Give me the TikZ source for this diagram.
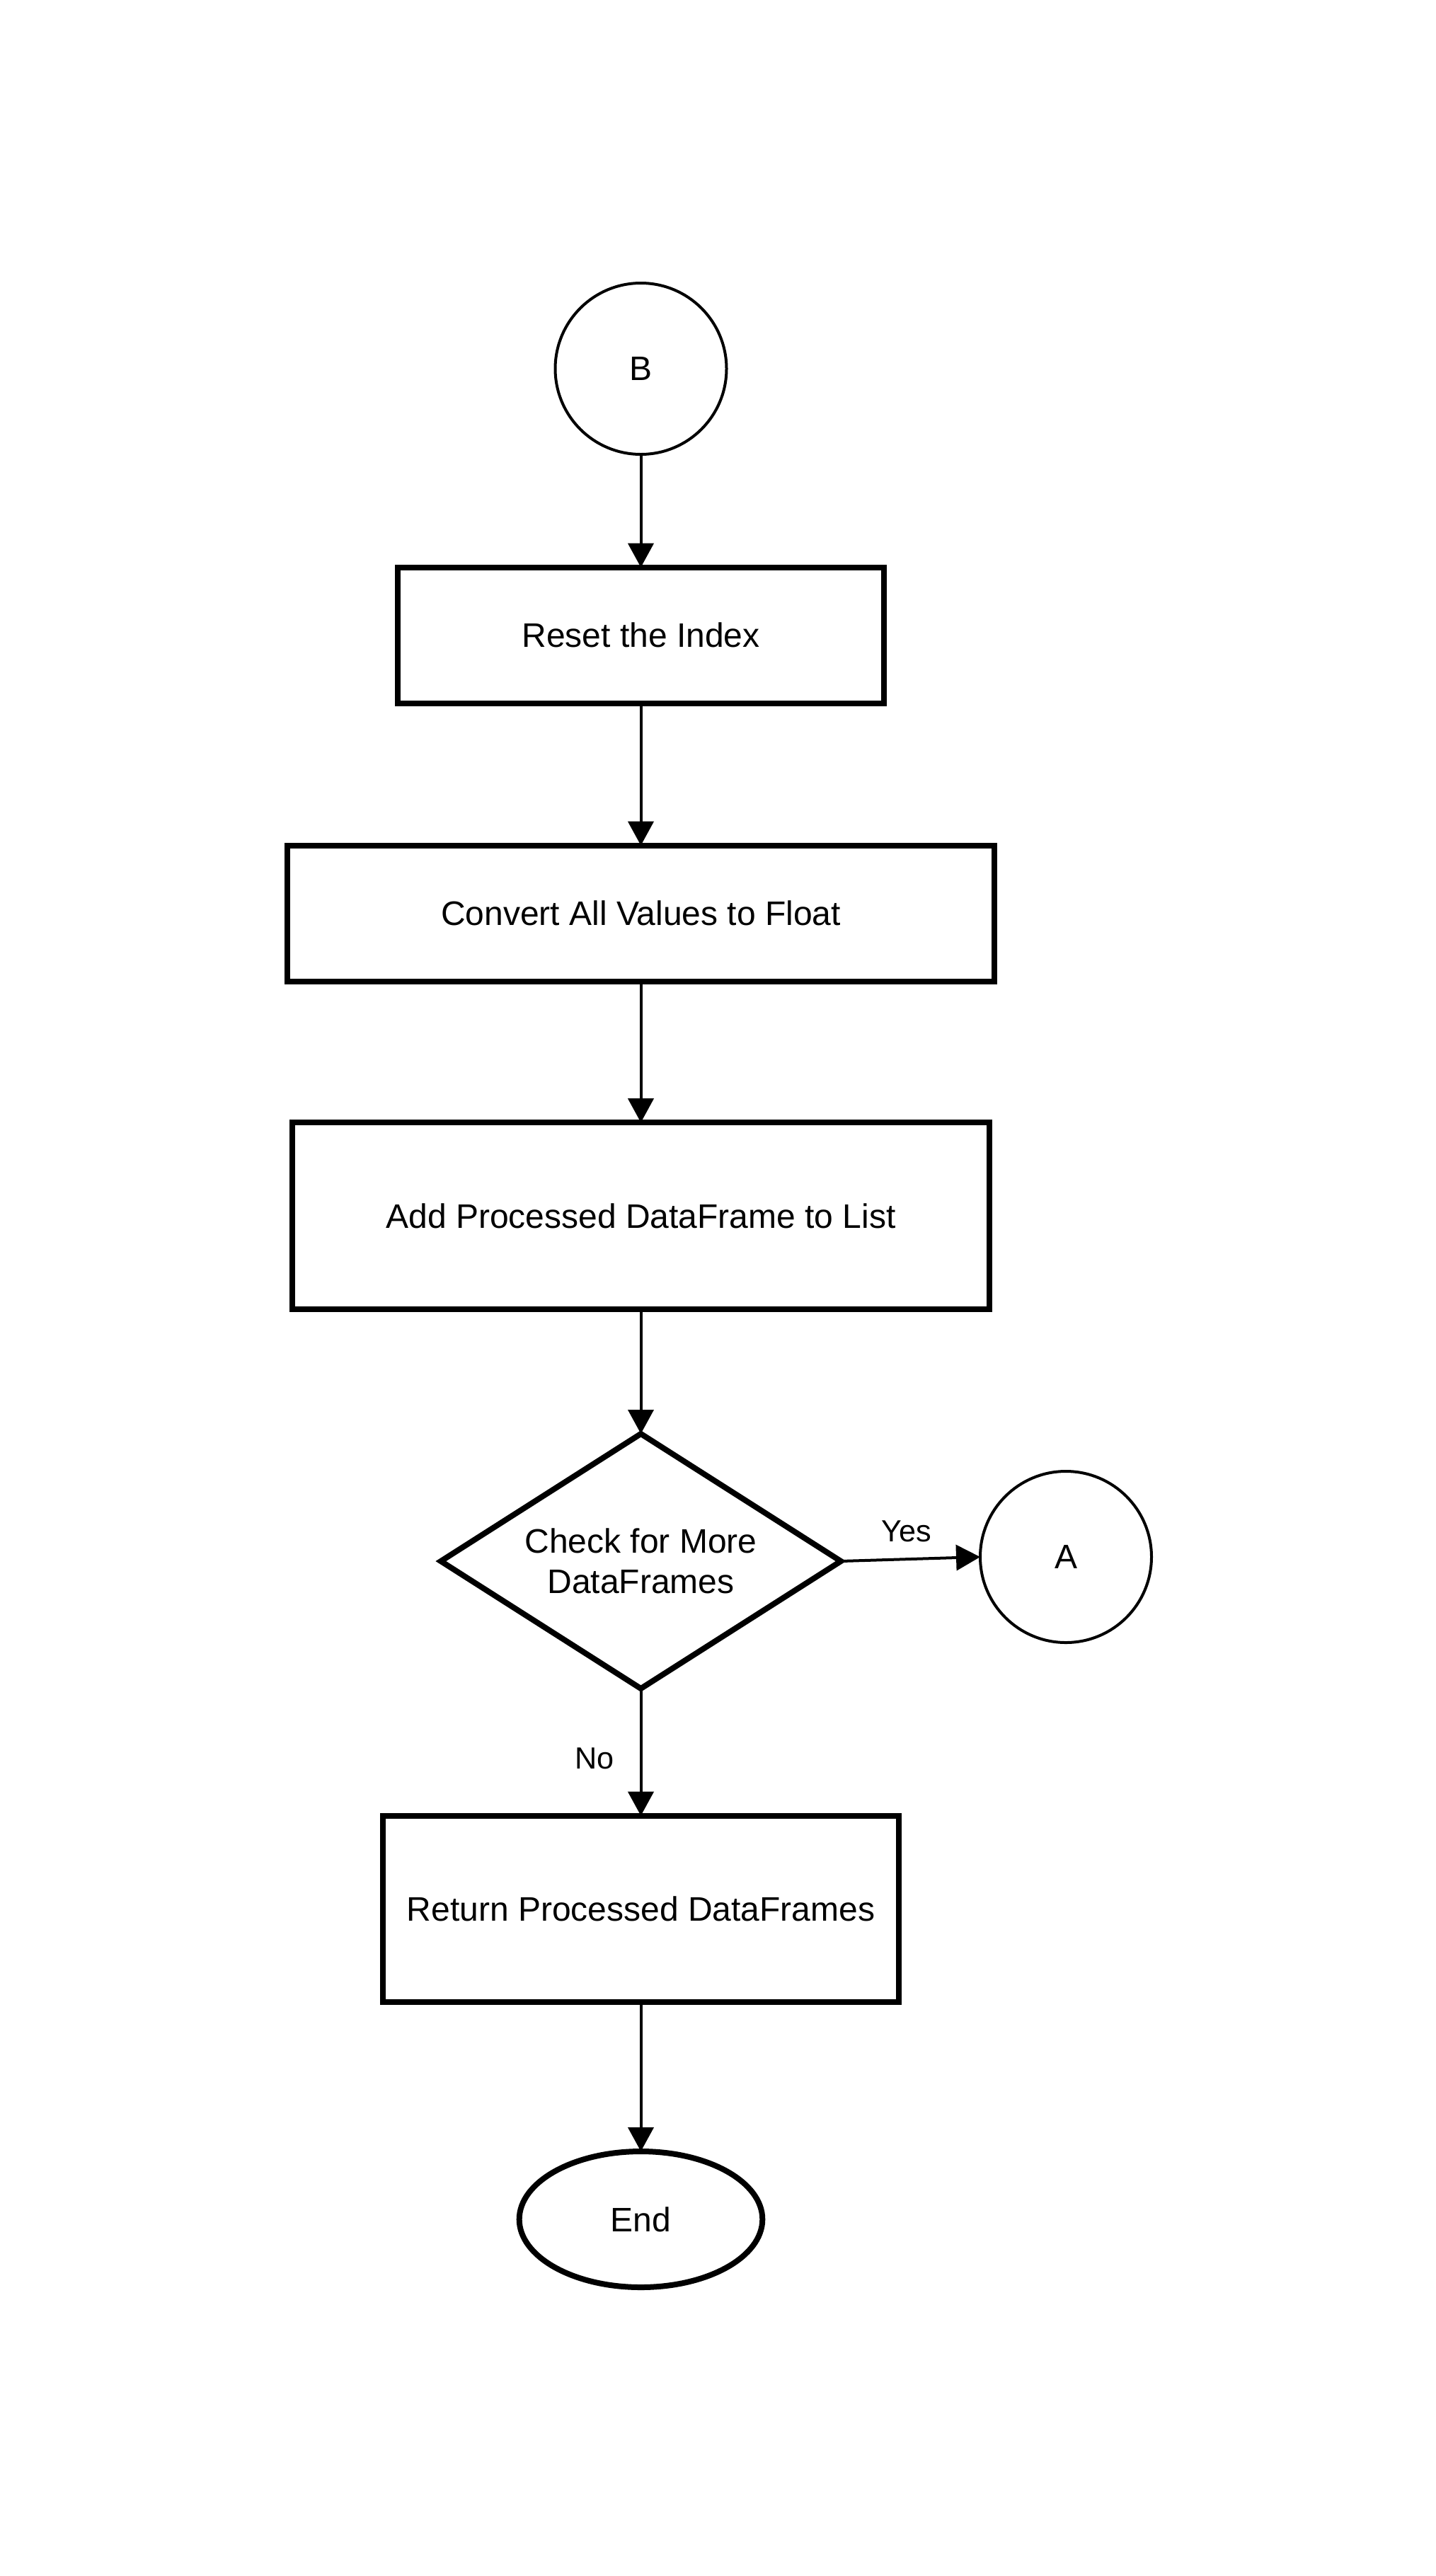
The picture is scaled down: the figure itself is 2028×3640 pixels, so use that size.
\documentclass[tikz,border=0pt]{standalone}
\usepackage{fontspec}
\setmainfont{Liberation Sans}
\usetikzlibrary{shapes.geometric,arrows.meta}
\begin{document}
\begin{tikzpicture}[x=0.25pt,y=-0.25pt,
  every node/.style={font=\fontsize{12}{14.4}\selectfont, inner sep=0pt, outer sep=0pt},
  procbox/.style={draw, line width=2pt, rectangle, align=center},
  connector/.style={draw, circle, line width=1pt, minimum size=60.5pt},
  decision/.style={draw, diamond, line width=2pt, align=center, minimum width=141.3pt, minimum height=90pt, aspect=1.57},
  terminal/.style={draw, ellipse, line width=2pt, minimum width=85.9pt, minimum height=48pt},
  flow/.style={line width=1pt, -{Triangle[length=8.5pt,width=9pt]}},
  lbl/.style={font=\fontsize{10.8}{13}\selectfont}]
\useasboundingbox (0,0) rectangle (2028,3640);
\node[connector] (B) at (905.5,521) {B};
\node[procbox, minimum width=171.9pt, minimum height=48pt] (reset) at (905.5,897.7) {Reset the Index};
\node[procbox, minimum width=249.8pt, minimum height=48pt] (conv) at (905.5,1290.7) {Convert All Values to Float};
\node[procbox, minimum width=246.3pt, minimum height=65.9pt] (add) at (905.5,1718) {Add Processed DataFrame to List};
\node[decision] (dec) at (905.5,2206) {Check for More\\DataFrames};
\node[connector] (A) at (1506,2200) {A};
\node[procbox, minimum width=182.3pt, minimum height=65.9pt] (ret) at (905.5,2697.5) {Return Processed DataFrames};
\node[terminal] (end) at (905.5,3136) {End};
\draw[flow] (B) -- (reset);
\draw[flow] (reset) -- (conv);
\draw[flow] (conv) -- (add);
\draw[flow] (add) -- (dec);
\draw[flow] (dec.east) -- (A.west) node[lbl, pos=0.47, above=6pt] (yes) {Yes};
\draw[flow] (dec.south) -- (ret.north) node[lbl, pos=0.55, left=9.5pt] (no) {No};
\draw[flow] (ret) -- (end);
\end{tikzpicture}
\end{document}
